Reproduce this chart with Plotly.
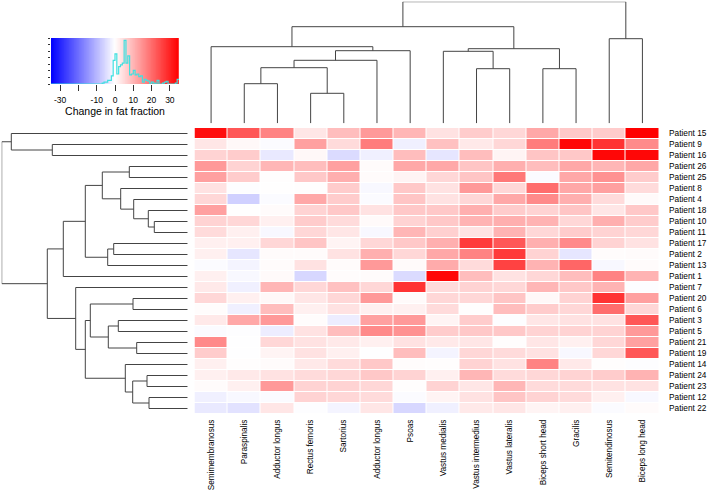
import numpy as np
import plotly.graph_objects as go

muscles = ["Semimembranosus", "Paraspinalis", "Adductor longus", "Rectus femoris",
           "Sartorius", "Adductor longus", "Psoas", "Vastus medialis",
           "Vastus intermedius", "Vastus lateralis", "Biceps short head",
           "Gracilis", "Semitendinosus", "Biceps long head"]

patients = ["Patient 15", "Patient 9", "Patient 16", "Patient 26", "Patient 25",
            "Patient 8", "Patient 4", "Patient 18", "Patient 10", "Patient 11",
            "Patient 17", "Patient 2", "Patient 13", "Patient 1", "Patient 7",
            "Patient 20", "Patient 6", "Patient 3", "Patient 5", "Patient 21",
            "Patient 19", "Patient 14", "Patient 24", "Patient 23", "Patient 12",
            "Patient 22"]

# change in fat fraction, rows = patients (display order), cols = muscles (display order)
values = [
    [33, 23, 17, 3.5, 9, 14, 10, 4, 7, 5.5, 12, 7.5, 7, 35],
    [3.5, 1, -0.5, 13, 5, 18, -2, 8.5, 3, 5.5, 18, 34, 28, 16],
    [6, 7, -3, 1, -5, -2, 9, -3.5, 9, 1.5, 8, 7.5, 34, 34],
    [14, 6, 10, 9, 13, 0.5, 12, 12, 8, 11, 9, 12, 10, 12],
    [13, 7, 0.3, 7.5, 11, 0.5, 1.5, 5.5, 8, 18.5, -0.5, 12, 15, 7],
    [4, -0.3, 0.2, 0.3, 7, -1, 7.5, 4, 14, 5.5, 20, 12, 13, 5],
    [5.5, -6.5, -0.5, 12, 7, -0.5, 8, 4, 5.5, 12, 16, 11, 5, 0.7],
    [13, 0.2, 0.5, 6, 7.5, 4, 7.5, 7.5, 11, 7, 6, 8, 3.5, 7.5],
    [6, 5.5, 2, 7, 5, 0.7, 6, 7.5, 10.5, 11, 10.5, 5.5, 11, 7],
    [5, 2, -1, 5.5, 3.5, -1, 10, 6.5, 4, 10.5, 5.5, 7, 6, 5.5],
    [2, 2, 5.5, 8, 1.5, 5.5, 7.5, 11, 27, 23, 11, 16, 6, 4],
    [2, -3.5, 0.5, 0.5, 4, 11, 5.5, 12, 17, 27, 6, -3.5, 0.4, 0.5],
    [-0.5, -1.5, 0.5, 4, 0.5, 14, 0.7, 11.5, 5, 26, 10.5, 21, -1, 0.5],
    [2, -1, 0.7, -5.5, 0.4, 0.5, -5, 34, 9, 4, 5.5, 9, 17, 10.5],
    [3, -2, 10, 5.5, 8.5, 5.5, 28, 5, 6, 5.5, 10, 7.5, 10.5, -0.3],
    [5.5, 2, 1, 3.5, 5.5, 14, 0.7, 5.5, 5.5, 8, 1, 6, 28, 13],
    [0.4, -2, 9, 2, 4, 2, 2, 5, 0.3, 9, 7, 5.5, 20, 5.5],
    [3, 12, 14, 0.4, -2.5, 13, 14, 1.5, 7, -0.3, 3.5, 4, 4, 23],
    [-0.5, -0.3, -2.5, 4, 9, 16, 15, 7, 7.5, 7.5, 6, 6, 6, 14],
    [16, -0.2, 5.5, 4, 3, 2, 4, 3, 3.5, 0.3, 3.5, 2, 5.5, 13],
    [7, -0.2, 1.5, 4, 2, -0.2, 9, -1.5, 5.5, 5, 4, -1, 5.5, 23],
    [2, 0.3, 0.5, 3, 5, 7.5, 0.4, 0.3, 6, 4, 17, 3, 0.3, -0.3],
    [2, 3, 4, 5, 5.5, 7.5, 6, 2, 10, 5, 5.5, 6, 7, 10.5],
    [0.5, 2, 14, 6, 6, 5.5, 0.3, 6, 3.5, 10, 5, 5, 4, 4],
    [-2, -1, -0.5, 6, 5.5, 5, -0.5, 1.5, 4, 8, 6, 5, 2, -1],
    [-3, -4, 3.5, -0.3, -1.5, 3.5, -5.5, -2, 3, 3.5, 1.5, 2, -0.5, 0.5],
]

# merges: (a, b, height); negative = leaf (1-based display position), positive = earlier merge (1-based)
col_merges = [
    (-2, -3, 39.6), (-4, -5, 30.0), (1, 2, 55.6), (3, -6, 63.0), (4, -7, 72.6),
    (-1, 5, 76.6), (-9, -10, 54.6), (-11, -12, 54.6), (-8, 7, 72.0), (9, 8, 74.6),
    (6, 10, 96.6), (-13, -14, 84.6), (11, 12, 121.6),
]
row_merges = [
    (-2, -3, 135.4), (-1, 1, 176.4), (-4, -5, 58.4), (-9, -10, 33.4), (-8, 4, 39.4),
    (-7, 5, 54.0), (-6, 6, 67.0), (3, 7, 85.4), (-11, -12, 74.0), (9, -13, 80.0),
    (8, 10, 102.4), (11, -14, 124.4), (-16, -17, 54.7), (-18, -19, 69.4),
    (-20, -21, 51.0), (14, 15, 79.4), (13, 16, 97.4), (-23, -24, 40.7),
    (-25, -26, 38.7), (18, 19, 55.0), (-22, 20, 62.4), (17, 21, 102.4),
    (-15, 22, 112.0), (12, 23, 140.4), (2, 24, 186.0),
]

key_range = [-35, 35]
key_tickvals = [-30, -20, -10, 0, 10, 20, 30]
key_ticktext = ["-30", "", "-10", "0", "10", "20", "30"]

W, H = 709, 491
FONT = "Liberation Sans, Arial, sans-serif"
scale = [[0, "rgb(0,0,255)"], [0.5, "rgb(255,255,255)"], [1, "rgb(255,0,0)"]]


def px_x(a, b):
    return [a / W, b / W]


def px_y(top, bottom):
    return [1 - bottom / H, 1 - top / H]


def dendro(merges):
    pos, hgt = {}, {}
    P, Hh = [], []
    for k, (a, b, h) in enumerate(merges, start=1):
        pa, ha = (-a, 0.0) if a < 0 else (pos[a], hgt[a])
        pb, hb = (-b, 0.0) if b < 0 else (pos[b], hgt[b])
        P += [pa, pa, pb, pb, None]
        Hh += [ha, h, h, hb, None]
        pos[k] = (pa + pb) / 2
        hgt[k] = h
    return P, Hh


ncol, nrow = len(muscles), len(patients)
hx = px_x(194.5, 659)
hy = px_y(128, 414)

fig = go.Figure()

fig.add_trace(go.Heatmap(
    z=values, x=list(range(1, ncol + 1)), y=list(range(1, nrow + 1)),
    colorscale=scale, zmin=key_range[0], zmax=key_range[1], showscale=False,
    xgap=1, ygap=1, xaxis="x", yaxis="y", hoverinfo="skip"))

# colour key
kx = np.linspace(key_range[0], key_range[1], 281)
flat = np.array(values, dtype=float).ravel()
counts, edges = np.histogram(flat, bins=np.arange(key_range[0], key_range[1] + 1, 1))
ytop = counts.max() / 0.95
fig.add_trace(go.Heatmap(
    z=[kx.tolist()], x=kx.tolist(), y=[0, ytop], colorscale=scale,
    zmin=key_range[0], zmax=key_range[1], showscale=False,
    xaxis="x2", yaxis="y2", hoverinfo="skip"))
fig.add_trace(go.Scatter(
    x=edges.tolist(), y=counts.tolist() + [counts[-1]], mode="lines",
    line=dict(color="#40e0e0", width=1.2, shape="hv"),
    xaxis="x2", yaxis="y2", hoverinfo="skip"))

cp, ch = dendro(col_merges)
fig.add_trace(go.Scatter(x=cp, y=ch, mode="lines", line=dict(color="#444", width=1),
                         xaxis="x3", yaxis="y3", hoverinfo="skip"))
rp, rh = dendro(row_merges)
fig.add_trace(go.Scatter(x=rh, y=rp, mode="lines", line=dict(color="#444", width=1),
                         xaxis="x4", yaxis="y4", hoverinfo="skip"))

hidden = dict(visible=False, showgrid=False, zeroline=False, automargin=False)
fig.update_layout(
    template="none",
    width=W, height=H, margin=dict(l=0, r=0, t=0, b=0, pad=0, autoexpand=False),
    paper_bgcolor="white", plot_bgcolor="white", showlegend=False,
    font=dict(family=FONT, size=8, color="black"),
    xaxis=dict(domain=hx, range=[0.5, ncol + 0.5], tickvals=list(range(1, ncol + 1)),
               ticktext=muscles, tickangle=-90, ticks="", ticklabelstandoff=3,
               showgrid=False, zeroline=False, showline=False, anchor="y",
               automargin=False, tickfont=dict(size=8.2)),
    yaxis=dict(domain=hy, range=[nrow + 0.5, 0.5], tickvals=list(range(1, nrow + 1)),
               ticktext=patients, side="right", ticks="", ticklabelstandoff=9,
               showgrid=False, zeroline=False, showline=False, anchor="x",
               automargin=False, tickfont=dict(size=8.3)),
    xaxis2=dict(domain=px_x(51, 179), range=key_range, tickvals=key_tickvals,
                ticktext=key_ticktext, ticks="outside", ticklen=6, tickcolor="#333",
                showgrid=False, zeroline=False, showline=False, anchor="y2",
                automargin=False, tickfont=dict(size=8.5), ticklabelstandoff=2,
                title=dict(text="Change in fat fraction", font=dict(size=10.5), standoff=3)),
    yaxis2=dict(domain=px_y(38, 84), range=[0, ytop],
                tickvals=np.linspace(0, ytop, 8).tolist(), ticks="outside",
                ticklen=2, tickcolor="#333", showticklabels=False, showgrid=False,
                zeroline=False, showline=False, anchor="x2", automargin=False),
    xaxis3=dict(domain=hx, range=[0.5, ncol + 0.5], anchor="y3", **hidden),
    yaxis3=dict(domain=px_y(1.7, 123.3), range=[0, 121.6], anchor="x3", **hidden),
    xaxis4=dict(domain=px_x(1.7, 187.7), range=[186, 0], anchor="y4", **hidden),
    yaxis4=dict(domain=hy, range=[nrow + 0.5, 0.5], anchor="x4", **hidden),
)

fig.write_html("out.html", config={"displayModeBar": False},
               post_script="document.body.style.margin='0';document.body.style.padding='0';")
